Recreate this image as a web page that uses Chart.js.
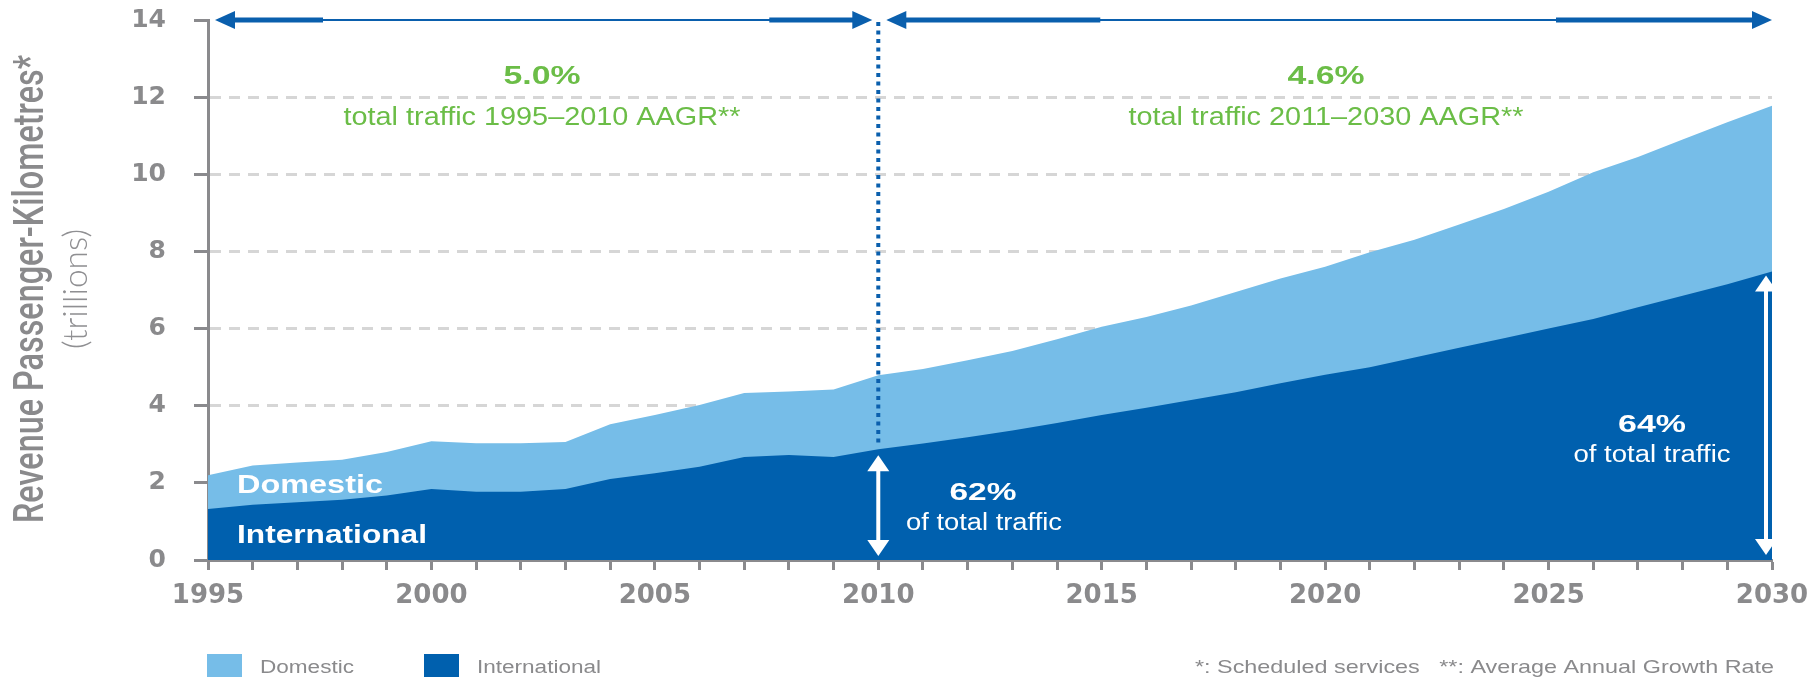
<!DOCTYPE html>
<html>
<head>
<meta charset="utf-8">
<script src="https://cdn.jsdelivr.net/npm/chart.js@4"></script>
<style>
  html, body { margin: 0; padding: 0; background: #fff; }
  #wrap { width: 1810px; height: 677px; position: relative; }
</style>
</head>
<body>
<div id="wrap"><canvas id="traffic-chart"></canvas></div>
<script>
// Revenue passenger-kilometres (trillions)
const years = ['1995', '1996', '1997', '1998', '1999', '2000', '2001', '2002', '2003', '2004',
  '2005', '2006', '2007', '2008', '2009', '2010', '2011', '2012', '2013', '2014',
  '2015', '2016', '2017', '2018', '2019', '2020', '2021', '2022', '2023', '2024',
  '2025', '2026', '2027', '2028', '2029', '2030'];
const international = [1.32, 1.43, 1.50, 1.56, 1.67, 1.84, 1.77, 1.77, 1.84, 2.10,
  2.25, 2.42, 2.67, 2.72, 2.67, 2.87, 3.02, 3.18, 3.36, 3.55,
  3.76, 3.95, 4.15, 4.35, 4.58, 4.80, 5.00, 5.25, 5.50, 5.75,
  6.00, 6.25, 6.55, 6.85, 7.15, 7.48];
const domestic = [0.88, 1.02, 1.03, 1.04, 1.13, 1.24, 1.26, 1.26, 1.22, 1.42,
  1.51, 1.60, 1.66, 1.65, 1.75, 1.92, 1.93, 2.00, 2.06, 2.17,
  2.29, 2.35, 2.45, 2.60, 2.72, 2.80, 2.98, 3.05, 3.20, 3.35,
  3.55, 3.80, 3.90, 4.05, 4.20, 4.30];
const labelYears = ['1995', '2000', '2005', '2010', '2015', '2020', '2025', '2030'];
const yTicks = [0, 2, 4, 6, 8, 10, 12, 14];

const LIGHT_BLUE = '#76bde8';
const DARK_BLUE = '#0060ae';
const ARROW_BLUE = '#0a5fad';
const AXIS_GREY = '#8a8a8d';
const TEXT_GREY = '#8a8a8c';
const GRID_GREY = '#d6d6d6';
const GREEN = '#6bbd47';
const SANS = '"Liberation Sans", Arial, sans-serif';

// text squeezed/stretched horizontally to a target width
const drawText = (ctx, text, x, y, font, color, width, align = 'center') => {
  ctx.save();
  ctx.font = font;
  const w = ctx.measureText(text).width;
  ctx.translate(x, y);
  ctx.scale(width / w, 1);
  ctx.textAlign = align;
  ctx.textBaseline = 'alphabetic';
  ctx.fillStyle = color;
  ctx.fillText(text, 0, 0);
  ctx.restore();
};

const hArrow = (ctx, xa, xb, y, thickA, thickB) => {
  const head = 20, half = 9;
  ctx.save();
  ctx.strokeStyle = ARROW_BLUE;
  ctx.fillStyle = ARROW_BLUE;
  ctx.lineWidth = 2;
  ctx.beginPath(); ctx.moveTo(xa + head, y); ctx.lineTo(xb - head, y); ctx.stroke();
  ctx.lineWidth = 5;
  ctx.beginPath(); ctx.moveTo(xa + head - 2, y); ctx.lineTo(xa + thickA, y); ctx.stroke();
  ctx.beginPath(); ctx.moveTo(xb - thickB, y); ctx.lineTo(xb - head + 2, y); ctx.stroke();
  ctx.beginPath(); ctx.moveTo(xa, y); ctx.lineTo(xa + head, y - half); ctx.lineTo(xa + head, y + half); ctx.closePath(); ctx.fill();
  ctx.beginPath(); ctx.moveTo(xb, y); ctx.lineTo(xb - head, y - half); ctx.lineTo(xb - head, y + half); ctx.closePath(); ctx.fill();
  ctx.restore();
};

const vArrow = (ctx, x, ya, yb) => {
  const head = 16, half = 11;
  ctx.save();
  ctx.strokeStyle = '#fff';
  ctx.fillStyle = '#fff';
  ctx.lineWidth = 4;
  ctx.beginPath(); ctx.moveTo(x, ya + head - 2); ctx.lineTo(x, yb - head + 2); ctx.stroke();
  ctx.beginPath(); ctx.moveTo(x, ya); ctx.lineTo(x - half, ya + head); ctx.lineTo(x + half, ya + head); ctx.closePath(); ctx.fill();
  ctx.beginPath(); ctx.moveTo(x, yb); ctx.lineTo(x - half, yb - head); ctx.lineTo(x + half, yb - head); ctx.closePath(); ctx.fill();
  ctx.restore();
};

const rotatedText = (ctx, text, x, y, font, color, length, thick) => {
  ctx.save();
  ctx.translate(x, y);
  ctx.rotate(-Math.PI / 2);
  ctx.font = font;
  const w = ctx.measureText(text).width;
  ctx.scale(length / w, thick);
  ctx.textAlign = 'center';
  ctx.textBaseline = 'alphabetic';
  ctx.fillStyle = color;
  ctx.fillText(text, 0, 0);
  ctx.restore();
};

const annotations = {
  id: 'annotations',
  afterDraw(chart) {
    const { ctx, chartArea } = chart;
    const xs = chart.scales.x;
    const ys = chart.scales.y;
    const i2010 = years.indexOf('2010');
    const iLast = years.length - 1;
    const x2010 = xs.getPixelForValue(i2010);
    const x2030 = xs.getPixelForValue(iLast);
    const yTop = ys.getPixelForValue(14);
    const yZero = ys.getPixelForValue(0);

    // dotted divider at 2010
    ctx.save();
    ctx.strokeStyle = ARROW_BLUE;
    ctx.lineWidth = 4;
    ctx.setLineDash([4, 4.5]);
    ctx.beginPath();
    ctx.moveTo(x2010, yTop + 2);
    ctx.lineTo(x2010, ys.getPixelForValue(international[i2010]) - 3);
    ctx.stroke();
    ctx.restore();

    // period arrows along the top
    hArrow(ctx, chartArea.left + 7, x2010 - 6, yTop, 108, 103);
    hArrow(ctx, x2010 + 8, x2030, yTop, 214, 216);

    // growth rates
    drawText(ctx, '5.0%', 542, 84, `bold 26px ${SANS}`, GREEN, 77);
    drawText(ctx, 'total traffic 1995\u20132010 AAGR**', 542, 125, `26px ${SANS}`, GREEN, 397);
    drawText(ctx, '4.6%', 1326, 84, `bold 26px ${SANS}`, GREEN, 77);
    drawText(ctx, 'total traffic 2011\u20132030 AAGR**', 1326, 125, `26px ${SANS}`, GREEN, 395);

    // international share arrows
    vArrow(ctx, x2010, ys.getPixelForValue(international[i2010]) + 6, yZero - 4);
    vArrow(ctx, x2030 - 6, ys.getPixelForValue(international[iLast]) + 4, yZero - 5);

    drawText(ctx, '62%', 983, 500, `bold 24px ${SANS}`, '#fff', 67);
    drawText(ctx, 'of total traffic', 984, 530, `23px ${SANS}`, '#fff', 156);
    drawText(ctx, '64%', 1652, 432, `bold 24px ${SANS}`, '#fff', 68);
    drawText(ctx, 'of total traffic', 1652, 462, `23px ${SANS}`, '#fff', 157);

    // in-area series names
    drawText(ctx, 'Domestic', 237, 493, `bold 25px ${SANS}`, '#fff', 146, 'left');
    drawText(ctx, 'International', 237, 543, `bold 25px ${SANS}`, '#fff', 190, 'left');

    // y axis title
    rotatedText(ctx, 'Revenue Passenger-Kilometres*', 43, 289, `500 32px Roboto, ${SANS}`, TEXT_GREY, 468, 1.3);
    rotatedText(ctx, '(trillions)', 87, 289, `300 29px Lato, ${SANS}`, '#8f8f92', 120, 1.15);

    // legend
    ctx.save();
    ctx.fillStyle = LIGHT_BLUE;
    ctx.fillRect(207, 654, 35, 30);
    ctx.fillStyle = DARK_BLUE;
    ctx.fillRect(424, 654, 35, 30);
    ctx.restore();
    drawText(ctx, 'Domestic', 260, 673, `18px ${SANS}`, TEXT_GREY, 94, 'left');
    drawText(ctx, 'International', 477, 673, `18px ${SANS}`, TEXT_GREY, 124, 'left');

    // footnotes
    drawText(ctx, '*: Scheduled services   **: Average Annual Growth Rate', 1774, 673,
      `19px "Liberation Sans Narrow", ${SANS}`, TEXT_GREY, 579, 'right');
  }
};

new Chart(document.getElementById('traffic-chart'), {
  type: 'line',
  data: {
    labels: years,
    datasets: [
      {
        label: 'International',
        data: international,
        backgroundColor: DARK_BLUE,
        borderWidth: 0,
        pointRadius: 0,
        fill: 'origin',
        tension: 0
      },
      {
        label: 'Domestic',
        data: domestic,
        backgroundColor: LIGHT_BLUE,
        borderWidth: 0,
        pointRadius: 0,
        fill: 'origin',
        tension: 0
      }
    ]
  },
  options: {
    responsive: true,
    maintainAspectRatio: false,
    animation: false,
    layout: { autoPadding: false, padding: { top: 20, right: 38, bottom: 57, left: 0 } },
    plugins: {
      legend: { display: false },
      tooltip: { enabled: false }
    },
    scales: {
      x: {
        type: 'category',
        offset: false,
        grid: {
          drawOnChartArea: false,
          color: AXIS_GREY,
          tickColor: AXIS_GREY,
          tickLength: 10,
          tickWidth: 3
        },
        border: { color: AXIS_GREY, width: 3 },
        ticks: {
          autoSkip: false,
          maxRotation: 0,
          padding: 11,
          color: TEXT_GREY,
          font: { family: '"DejaVu Sans"', weight: 'bold', size: 26 },
          callback: (value, index) => (labelYears.includes(years[index]) ? years[index] : '')
        },
        afterFit: (scale) => {
          scale.height = 60;
          scale.paddingLeft = 0;
          scale.paddingRight = 0;
        }
      },
      y: {
        stacked: true,
        min: 0,
        max: 14,
        afterBuildTicks: (scale) => { scale.ticks = yTicks.map(v => ({ value: v })); },
        grid: {
          color: (c) => (c.tick && (c.tick.value === 0 || c.tick.value === 14) ? 'rgba(0,0,0,0)' : GRID_GREY),
          lineWidth: 3,
          tickColor: AXIS_GREY,
          tickLength: 14,
          tickWidth: 3,
          tickBorderDash: []
        },
        border: { color: AXIS_GREY, width: 3, dash: [11, 8] },
        ticks: {
          padding: 28,
          color: TEXT_GREY,
          font: { family: '"DejaVu Sans"', weight: 'bold', size: 25 }
        },
        afterFit: (scale) => {
          scale.width = 208;
          scale.paddingTop = 0;
          scale.paddingBottom = 0;
        }
      }
    }
  },
  plugins: [annotations]
});
</script>
</body>
</html>
